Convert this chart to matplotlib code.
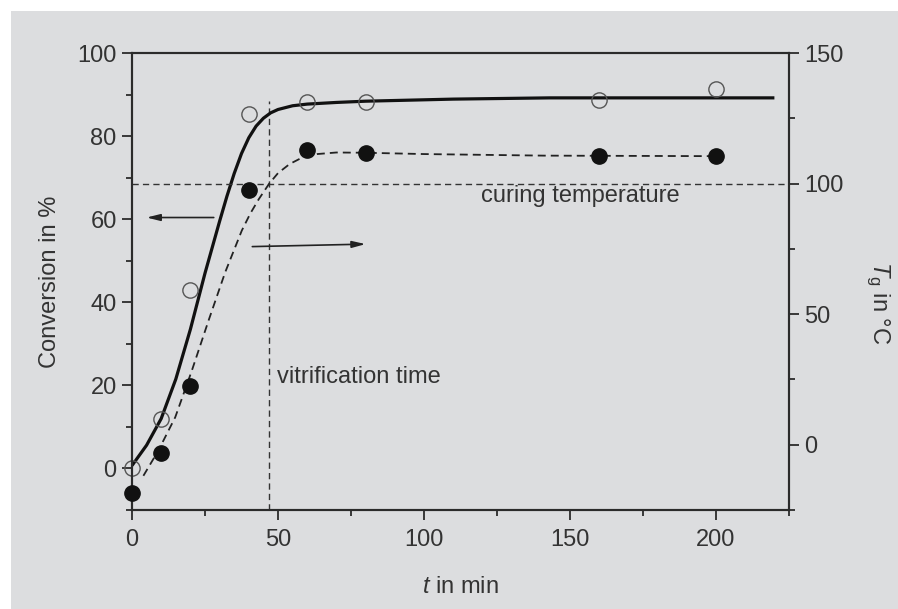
import matplotlib
matplotlib.use("Agg")
import matplotlib.pyplot as plt
from matplotlib.patches import Rectangle
from matplotlib.ticker import MultipleLocator

plt.rcParams['font.family'] = ['Liberation Sans', 'DejaVu Sans']
plt.rcParams['mathtext.fontset'] = 'custom'
plt.rcParams['mathtext.it'] = 'Liberation Sans:italic'
plt.rcParams['mathtext.rm'] = 'Liberation Sans'

# Measured data
t_conv = [0, 10, 20, 40, 60, 80, 160, 200]
conv = [0, 12, 43, 85.3, 88.2, 88.3, 88.7, 91.4]
t_tg = [0, 10, 20, 40, 60, 80, 160, 200]
tg = [-18.5, -3, 22.5, 97.5, 113, 111.6, 110.4, 110.4]

# Fitted curves
fit_t_conv = [0, 5, 10, 15, 20, 25, 30, 32.5, 35, 37.5, 40, 42.5, 45, 47.5, 50, 55, 60, 70, 80, 110, 143, 220]
fit_conv = [0.7, 5.6, 12, 21.5, 33.5, 47, 59.5, 65.5, 71, 75.8, 79.6, 82.4, 84.3, 85.6, 86.4, 87.3, 87.7, 88.1, 88.4, 88.9, 89.2, 89.2]
fit_t_tg = [3.9, 9, 14.8, 20.5, 26.2, 31.9, 37.6, 40.5, 43.4, 47, 50, 54, 58, 63.4, 70, 80, 100, 141, 200]
fit_tg = [-11.9, -2.3, 10.5, 28.4, 47.5, 66, 82, 88.5, 94, 100, 104, 107.5, 109.8, 111.3, 111.9, 111.8, 111.3, 110.7, 110.5]

curing_temp = 100
vitrification_time = 47

dark = '#2b2b2b'
txt = '#333333'
bg = '#dcdddf'

fig = plt.figure(figsize=(8.98, 6.09), dpi=100, facecolor='white')
fig.patches.append(Rectangle((11/898, 0), 1, 1 - 11/609, transform=fig.transFigure,
                             facecolor=bg, edgecolor='none', zorder=-10))

ax = fig.add_axes([132/898, 1 - 510/609, (789 - 132)/898, (510 - 53)/609])
ax.set_facecolor('none')
ax2 = ax.twinx()

ax.set_xlim(0, 225)
ax.set_ylim(-10, 100)
ax2.set_ylim(-25, 150)

# Fits
ax.plot(fit_t_conv, fit_conv, color='#111111', lw=2.3, solid_capstyle='butt',
        solid_joinstyle='round', zorder=3)
ax2.plot(fit_t_tg, fit_tg, color='#222222', lw=1.3, dashes=(4.4, 2.8), zorder=3)

# Reference lines
ax2.axhline(curing_temp, color=txt, lw=1.0, dashes=(4.5, 3), zorder=2)
ax.plot([vitrification_time, vitrification_time], [-10, 88.5], color=txt, lw=1.0,
        dashes=(4.5, 3), zorder=2)

# Points
ax.plot(t_conv, conv, 'o', ms=11, mfc='none', mec='#555555', mew=1.0, zorder=4, clip_on=False)
ax2.plot(t_tg, tg, 'o', ms=11, mfc='#111111', mec='#111111', zorder=5, clip_on=False)

# Arrows
ax.annotate('', xy=(5, 60.4), xytext=(28, 60.4),
            arrowprops=dict(arrowstyle='-|>,head_length=0.8,head_width=0.2', color='#222222', lw=1.2,
                            shrinkA=0, shrinkB=0))
ax.annotate('', xy=(80, 54), xytext=(41.2, 53.4),
            arrowprops=dict(arrowstyle='-|>,head_length=0.8,head_width=0.2', color='#222222', lw=1.2,
                            shrinkA=0, shrinkB=0))

# Texts
ax.text(119.5, 65.5, 'curing temperature', fontsize=17, color=txt, va='center', ha='left')
ax.text(49.7, 22, 'vitrification time', fontsize=17, color=txt, va='center', ha='left')

# Ticks
ax.xaxis.set_major_locator(MultipleLocator(50))
ax.xaxis.set_minor_locator(MultipleLocator(25))
ax.yaxis.set_major_locator(MultipleLocator(20))
ax.yaxis.set_minor_locator(MultipleLocator(10))
ax2.yaxis.set_major_locator(MultipleLocator(50))
ax2.yaxis.set_minor_locator(MultipleLocator(25))

for a in (ax, ax2):
    a.tick_params(which='major', direction='out', length=7, width=1.3, color=dark,
                  labelsize=17, labelcolor=txt, pad=4)
    a.tick_params(which='minor', direction='out', length=4, width=1.3, color=dark)
    for s in a.spines.values():
        s.set_color(dark)
        s.set_linewidth(1.5)
ax.tick_params(axis='x', which='major', pad=7)
ax.tick_params(top=False, which='both')

ax.set_xlabel(r'$t$ in min', fontsize=17, color=txt, labelpad=18)
ax.set_ylabel('Conversion in %', fontsize=17, color=txt, labelpad=12)
fig.text(878/898, 1 - 303/609, r'$T_\mathrm{g}$ in °C', fontsize=17, color=txt,
         rotation=270, ha='center', va='center')

fig.savefig('out.png', dpi=100, facecolor='white')
